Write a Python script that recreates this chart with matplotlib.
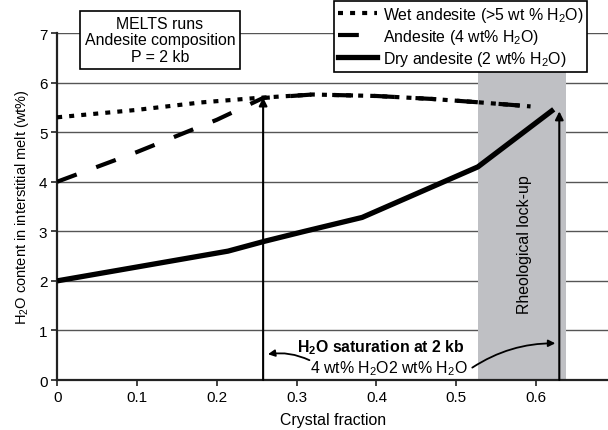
import matplotlib
matplotlib.use('Agg')
import matplotlib.pyplot as plt
from matplotlib.lines import Line2D

plt.rcParams['font.family'] = ['Liberation Sans', 'DejaVu Sans']
plt.rcParams['mathtext.default'] = 'regular'

# values
crystal_wet = [0, 0.1, 0.18, 0.25, 0.32, 0.4, 0.47, 0.53, 0.593]
h2o_wet = [5.3, 5.45, 5.6, 5.69, 5.76, 5.73, 5.67, 5.6, 5.52]

crystal_and = [0, 0.1, 0.2, 0.258, 0.32, 0.4, 0.47, 0.53, 0.593]
h2o_and = [4.0, 4.6, 5.25, 5.69, 5.76, 5.73, 5.67, 5.6, 5.52]

crystal_dry = [0, 0.1, 0.214, 0.26, 0.31, 0.382, 0.527, 0.622]
h2o_dry = [2.0, 2.28, 2.6, 2.8, 3.0, 3.28, 4.3, 5.46]

lockup_band = [0.527, 0.638]
sat_4wt = [0.258, 5.7]
sat_2wt = [0.629, 5.42]

FS = 11.4
dot_style = (0, (1.2, 1.7))
dash_style = (0, (5, 5))

fig = plt.figure(figsize=(6.08, 4.31), dpi=100)
ax = fig.add_axes([0.094, 0.116, 0.906, 0.805])

ax.set_xlim(0, 0.69)
ax.set_ylim(0, 7)
ax.set_xticks([0, 0.1, 0.2, 0.3, 0.4, 0.5, 0.6])
ax.set_xticklabels(['0', '0.1', '0.2', '0.3', '0.4', '0.5', '0.6'])
ax.set_yticks(range(0, 8))
ax.yaxis.grid(True, color='#555555', lw=1.0, zorder=0)
ax.set_axisbelow(True)
for s in ['top', 'right']:
    ax.spines[s].set_visible(False)
for s in ['left', 'bottom']:
    ax.spines[s].set_linewidth(1.6)
    ax.spines[s].set_color('#222222')
ax.tick_params(labelsize=11, width=1.2, length=4, color='#222222', pad=3)

ax.axvspan(lockup_band[0], lockup_band[1], color='#bfc0c4', zorder=1, lw=0)

ax.plot(crystal_wet, h2o_wet, color='black', lw=3.0, ls=dot_style, zorder=3)
ax.plot(crystal_and, h2o_and, color='black', lw=3.0, ls=dash_style, zorder=3)
ax.plot(crystal_dry, h2o_dry, color='black', lw=3.8, solid_capstyle='butt', zorder=3)

for xs, ys in [sat_4wt, sat_2wt]:
    ax.annotate('', xy=(xs, ys), xytext=(xs, 0),
                arrowprops=dict(arrowstyle='-|>', color='black', lw=1.5,
                                mutation_scale=12, shrinkA=0, shrinkB=0),
                zorder=4)

ax.text(0.405, 0.68, 'H$_2$O saturation at 2 kb', ha='center', va='center',
        fontsize=FS, fontweight='bold', zorder=5)
ax.text(0.415, 0.25, '4 wt% H$_2$O2 wt% H$_2$O', ha='center', va='center',
        fontsize=FS, zorder=5)
ax.annotate('', xy=(0.264, 0.52), xytext=(0.316, 0.4),
            arrowprops=dict(arrowstyle='-|>', color='black', lw=1.3,
                            mutation_scale=10, connectionstyle='arc3,rad=0.15',
                            shrinkA=0, shrinkB=0))
ax.annotate('', xy=(0.624, 0.74), xytext=(0.52, 0.25),
            arrowprops=dict(arrowstyle='-|>', color='black', lw=1.3,
                            mutation_scale=10, connectionstyle='arc3,rad=-0.15',
                            shrinkA=0, shrinkB=0))

ax.text(0.586, 2.76, 'Rheological lock-up', rotation=90, ha='center', va='center',
        fontsize=FS, zorder=5)

ax.set_xlabel('Crystal fraction', fontsize=FS, labelpad=6)
ax.set_ylabel('H$_2$O content in interstitial melt (wt%)', fontsize=10.5, labelpad=6)

fig.text(0.263, 0.905, 'MELTS runs\nAndesite composition\nP = 2 kb', ha='center',
         va='center', fontsize=FS, linespacing=1.15,
         bbox=dict(boxstyle='square,pad=0.3', fc='white', ec='black', lw=1.2))

handles = [
    Line2D([], [], color='black', lw=3.0, ls=dot_style),
    Line2D([], [], color='black', lw=3.0, ls=dash_style),
    Line2D([], [], color='black', lw=3.8),
]
labels = ['Wet andesite (>5 wt % H$_2$O)', 'Andesite (4 wt% H$_2$O)',
          'Dry andesite (2 wt% H$_2$O)']
leg = fig.legend(handles, labels, loc='upper right', bbox_to_anchor=(0.966, 0.996),
                 fontsize=FS, frameon=True, fancybox=False, framealpha=1,
                 edgecolor='black', borderpad=0.25, labelspacing=0.2,
                 handlelength=2.5, handletextpad=0.35, borderaxespad=0)
leg.get_frame().set_linewidth(1.2)

fig.savefig('out.png', dpi=100)
